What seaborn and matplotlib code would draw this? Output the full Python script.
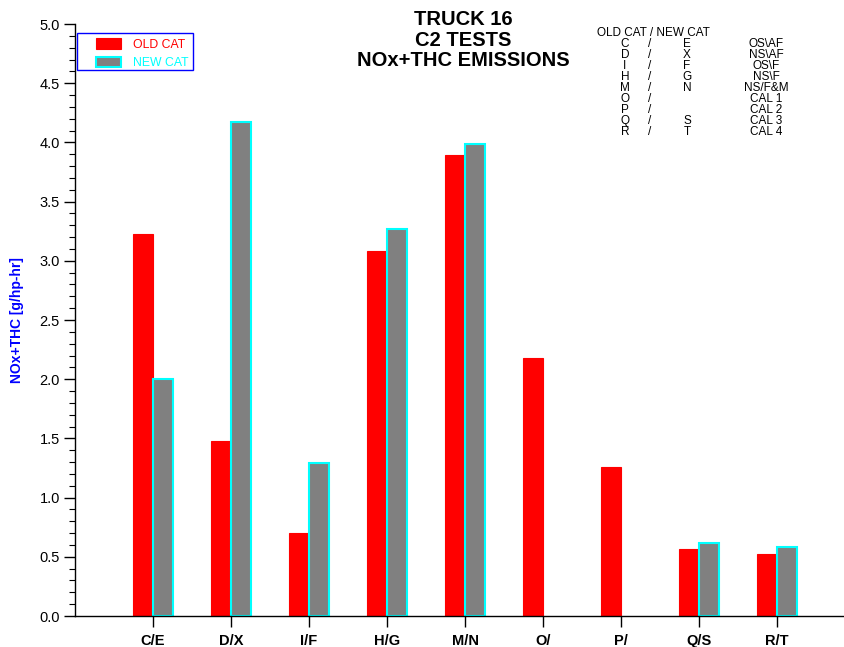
import numpy as np
import pandas as pd
import matplotlib
matplotlib.use('Agg')
import matplotlib.pyplot as plt
import seaborn as sns
from matplotlib.ticker import MultipleLocator
from matplotlib.patches import Rectangle

# chart data
groups = ['C/E', 'D/X', 'I/F', 'H/G', 'M/N', 'O/', 'P/', 'Q/S', 'R/T']
old_cat = [3.23, 1.48, 0.70, 3.08, 3.89, 2.18, 1.26, 0.57, 0.52]
new_cat = [2.00, 4.17, 1.29, 3.27, 3.99, np.nan, np.nan, 0.62, 0.58]

key_old = ['C', 'D', 'I', 'H', 'M', 'O', 'P', 'Q', 'R']
key_new = ['E', 'X', 'F', 'G', 'N', '', '', 'S', 'T']
key_desc = ['OS\\AF', 'NS\\AF', 'OS\\F', 'NS\\F', 'NS/F&M', 'CAL 1', 'CAL 2', 'CAL 3', 'CAL 4']

df = pd.DataFrame({
    'group': groups * 2,
    'cat': ['OLD CAT'] * len(groups) + ['NEW CAT'] * len(groups),
    'value': old_cat + new_cat,
})

sns.set_style('ticks')
plt.rcParams['font.family'] = ['Liberation Sans', 'DejaVu Sans']
plt.rcParams['text.color'] = 'black'
plt.rcParams['xtick.color'] = 'black'
plt.rcParams['ytick.color'] = 'black'
plt.rcParams['axes.edgecolor'] = 'black'

fig = plt.figure(figsize=(8.45, 6.47), dpi=100)
ax = fig.add_axes([0.0888, 0.0479, 0.9112, 0.9150])

sns.barplot(data=df, x='group', y='value', hue='cat', order=groups,
            hue_order=['OLD CAT', 'NEW CAT'],
            palette={'OLD CAT': 'red', 'NEW CAT': 'gray'},
            width=0.52, dodge=True, saturation=1, ax=ax, legend=False)

for p in ax.containers[0]:
    p.set_edgecolor('red')
    p.set_linewidth(0.8)
for p in ax.containers[1]:
    p.set_edgecolor('cyan')
    p.set_linewidth(1.5)

ax.set_xlim(-1, 8.87)
ax.set_ylim(0, 5.0)
ax.yaxis.set_major_locator(MultipleLocator(0.5))
ax.yaxis.set_minor_locator(MultipleLocator(0.1))
ax.yaxis.set_major_formatter(matplotlib.ticker.FormatStrFormatter('%.1f'))
ax.tick_params(axis='y', which='major', length=8, width=1, labelsize=10.5, direction='out', pad=3)
ax.tick_params(axis='y', which='minor', length=4, width=0.8, direction='out')
ax.tick_params(axis='x', which='major', length=8, width=1, labelsize=10.5, direction='out', pad=5)
for lab in ax.get_xticklabels():
    lab.set_fontweight('bold')

for s in ['top', 'right']:
    ax.spines[s].set_visible(False)
ax.spines['left'].set_linewidth(1)
ax.spines['bottom'].set_linewidth(1)

ax.set_xlabel('')
ax.set_ylabel('')
fig.text(17 / 845, 1 - 320 / 647, 'NOx+THC [g/hp-hr]', color='blue', fontweight='bold',
         fontsize=10, rotation=90, ha='center', va='center')

fig.text(463 / 845, 1 - 10 / 647, 'TRUCK 16\nC2 TESTS\nNOx+THC EMISSIONS', fontsize=14.5,
         fontweight='bold', ha='center', va='top', linespacing=1.1)

# legend: blue box drawn by hand, entries placed inside it
fig.patches.append(Rectangle((77 / 845, 1 - 70 / 647), 116 / 845, 37 / 647,
                             transform=fig.transFigure, facecolor='white',
                             edgecolor='blue', linewidth=1, zorder=5))
leg = fig.legend([ax.containers[0], ax.containers[1]], ['OLD CAT', 'NEW CAT'],
                 loc='upper left', bbox_to_anchor=(94 / 845, 1 - 36 / 647), frameon=False,
                 labelcolor=['red', 'cyan'], fontsize=8.8,
                 handlelength=2.0, handleheight=0.9, borderpad=0.2, borderaxespad=0,
                 handletextpad=1.0, labelspacing=0.5)
leg.set_zorder(6)

# category key in the top right corner
kfs = 8.5
fig.text(597 / 845, 1 - 33 / 647, 'OLD CAT / NEW CAT', fontsize=kfs, va='center')
ktop = 1 - 38 / 647
fig.text(625 / 845, ktop, '\n'.join(key_old), fontsize=kfs, va='top', ha='center', linespacing=0.89)
fig.text(650 / 845, ktop, '\n'.join(['/'] * len(key_old)), fontsize=kfs, va='top', ha='center', linespacing=0.89)
fig.text(687 / 845, ktop, '\n'.join(key_new), fontsize=kfs, va='top', ha='center', linespacing=0.89)
fig.text(766 / 845, ktop, '\n'.join(key_desc), fontsize=kfs, va='top', ha='center', linespacing=0.89)

plt.savefig('out.png', dpi=100)
